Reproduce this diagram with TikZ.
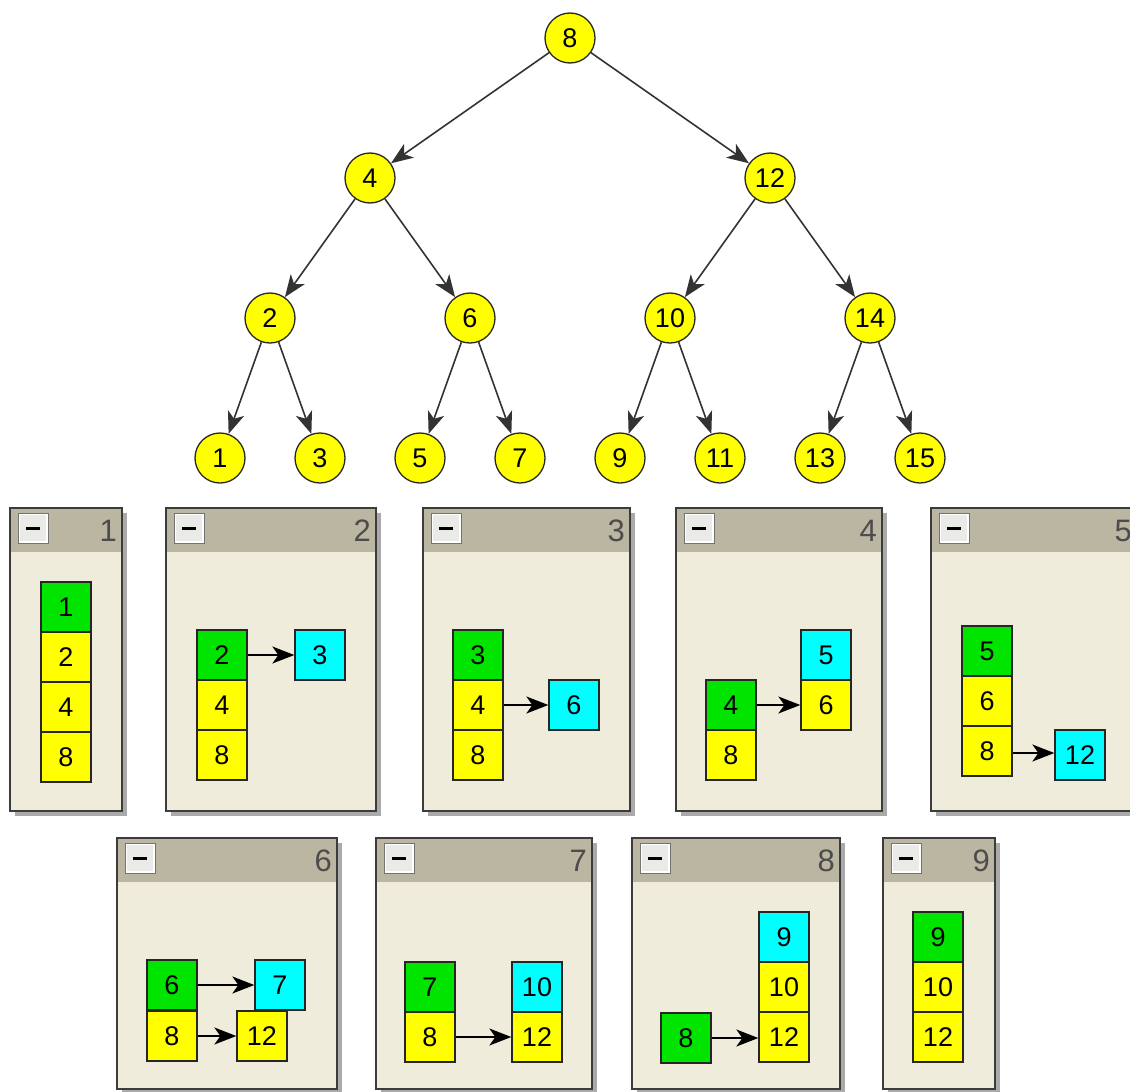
\documentclass[tikz,border=0pt]{standalone}
\usepackage{fontspec}
\setmainfont{Liberation Sans}
\usetikzlibrary{arrows.meta}

\definecolor{nodeyellow}{RGB}{255,255,0}
\definecolor{cellgreen}{RGB}{0,228,0}
\definecolor{cellcyan}{RGB}{0,255,255}
\definecolor{panelbg}{RGB}{240,236,220}
\definecolor{panelhead}{RGB}{186,182,162}
\definecolor{panelshadow}{RGB}{170,170,170}
\definecolor{panelborder}{RGB}{60,60,60}
\definecolor{btnface}{RGB}{234,234,232}

\tikzset{
  treenode/.style={circle, draw=black!85, line width=1.3pt, fill=nodeyellow,
    minimum size=50pt, inner sep=0pt, font=\fontsize{27}{27}\selectfont},
  treeedge/.style={draw=black!80, line width=1.6pt,
    -{Stealth[length=22pt,width=17pt,inset=6pt]}},
  cell/.style={draw=black!85, line width=1.3pt, minimum size=50pt,
    inner sep=0pt, font=\fontsize{27}{27}\selectfont},
  ycell/.style={cell, fill=nodeyellow},
  gcell/.style={cell, fill=cellgreen},
  ccell/.style={cell, fill=cellcyan},
  link/.style={draw=black, line width=1.6pt,
    -{Stealth[length=22pt,width=17pt,inset=6pt]}},
  panellabel/.style={anchor=east, text=black!70, inner sep=0pt,
    font=\fontsize{31}{31}\selectfont},
}

% one state window: label node name, left, top, right, bottom, caption
\newcommand\statepanel[6]{%
  \fill[panelshadow] ({#2+5},{#3+5}) rectangle ({#4+5},{#5+5});
  \fill[panelbg] (#2,#3) rectangle (#4,#5);
  \fill[panelhead] (#2,#3) rectangle (#4,{#3+44});
  \draw[panelborder, line width=1.6pt] (#2,#3) rectangle (#4,#5);
  \filldraw[fill=btnface, draw=white, line width=1.5pt]
    ({#2+9},{#3+6}) rectangle ({#2+37},{#3+34});
  \draw[black!55, line width=0.8pt] ({#2+8},{#3+5}) rectangle ({#2+38},{#3+35});
  \fill[black] ({#2+16},{#3+18.5}) rectangle ({#2+30},{#3+22});
  \node[panellabel] (#1) at ({#4-5},{#3+23}) {#6};
}

\begin{document}
\begin{tikzpicture}[x=1pt, y=-1pt]
\useasboundingbox (0,0) rectangle (1130,1092);
\clip (0,0) rectangle (1130,1092);

% ---- binary search tree ----
\node[treenode] (t8)  at (570,38)  {8};
\node[treenode] (t4)  at (370,178) {4};
\node[treenode] (t12) at (770,178) {12};
\node[treenode] (t2)  at (270,318) {2};
\node[treenode] (t6)  at (470,318) {6};
\node[treenode] (t10) at (670,318) {10};
\node[treenode] (t14) at (870,318) {14};
\node[treenode] (t1)  at (220,458) {1};
\node[treenode] (t3)  at (320,458) {3};
\node[treenode] (t5)  at (420,458) {5};
\node[treenode] (t7)  at (520,458) {7};
\node[treenode] (t9)  at (620,458) {9};
\node[treenode] (t11) at (720,458) {11};
\node[treenode] (t13) at (820,458) {13};
\node[treenode] (t15) at (920,458) {15};

\draw[treeedge] (t8) -- (t4);
\draw[treeedge] (t8) -- (t12);
\draw[treeedge] (t4) -- (t2);
\draw[treeedge] (t4) -- (t6);
\draw[treeedge] (t12) -- (t10);
\draw[treeedge] (t12) -- (t14);
\draw[treeedge] (t2) -- (t1);
\draw[treeedge] (t2) -- (t3);
\draw[treeedge] (t6) -- (t5);
\draw[treeedge] (t6) -- (t7);
\draw[treeedge] (t10) -- (t9);
\draw[treeedge] (t10) -- (t11);
\draw[treeedge] (t14) -- (t13);
\draw[treeedge] (t14) -- (t15);

% ---- state windows, first row ----
\statepanel{lab1}{10}{508}{122}{811}{1}
\statepanel{lab2}{166}{508}{376}{811}{2}
\statepanel{lab3}{423}{508}{630}{811}{3}
\statepanel{lab4}{676}{508}{882}{811}{4}
\statepanel{lab5}{931}{508}{1137}{811}{5}

% window 1
\node[gcell] (a1) at (66,607) {1};
\node[ycell] (a2) at (66,657) {2};
\node[ycell] (a4) at (66,707) {4};
\node[ycell] (a8) at (66,757) {8};

% window 2
\node[gcell] (b2) at (222,655) {2};
\node[ycell] (b4) at (222,705) {4};
\node[ycell] (b8) at (222,755) {8};
\node[ccell] (b3) at (320,655) {3};
\draw[link] (b2.east) -- (b3.west);

% window 3
\node[gcell] (c3) at (478,655) {3};
\node[ycell] (c4) at (478,705) {4};
\node[ycell] (c8) at (478,755) {8};
\node[ccell] (c6) at (574,705) {6};
\draw[link] (c4.east) -- (c6.west);

% window 4
\node[gcell] (d4) at (731,705) {4};
\node[ycell] (d8) at (731,755) {8};
\node[ccell] (d5) at (826,655) {5};
\node[ycell] (d6) at (826,705) {6};
\draw[link] (d4.east) -- (d6.west);

% window 5
\node[gcell] (e5)  at (987,651) {5};
\node[ycell] (e6)  at (987,701) {6};
\node[ycell] (e8)  at (987,751) {8};
\node[ccell] (e12) at (1080,755) {12};
\draw[link] ([yshift=-2pt]e8.east) -- ([yshift=2pt]e12.west);

% ---- state windows, second row ----
\statepanel{lab6}{117}{838}{337}{1089}{6}
\statepanel{lab7}{376}{838}{592}{1089}{7}
\statepanel{lab8}{632}{838}{840}{1089}{8}
\statepanel{lab9}{883}{838}{995}{1089}{9}

% window 6
\node[gcell] (f6)  at (172,985)  {6};
\node[ycell] (f8)  at (172,1036) {8};
\node[ccell] (f7)  at (280,985)  {7};
\node[ycell] (f12) at (262,1036) {12};
\draw[link] (f6.east) -- (f7.west);
\draw[link] (f8.east) -- (f12.west);

% window 7
\node[gcell] (g7)  at (430,987)  {7};
\node[ycell] (g8)  at (430,1037) {8};
\node[ccell] (g10) at (537,987)  {10};
\node[ycell] (g12) at (537,1037) {12};
\draw[link] (g8.east) -- (g12.west);

% window 8
\node[gcell] (h8)  at (686,1038) {8};
\node[ccell] (h9)  at (784,937)  {9};
\node[ycell] (h10) at (784,987)  {10};
\node[ycell] (h12) at (784,1037) {12};
\draw[link] (h8.east) -- (h8.east -| h12.west);

% window 9
\node[gcell] (i9)  at (938,937)  {9};
\node[ycell] (i10) at (938,987)  {10};
\node[ycell] (i12) at (938,1037) {12};

\end{tikzpicture}
\end{document}
